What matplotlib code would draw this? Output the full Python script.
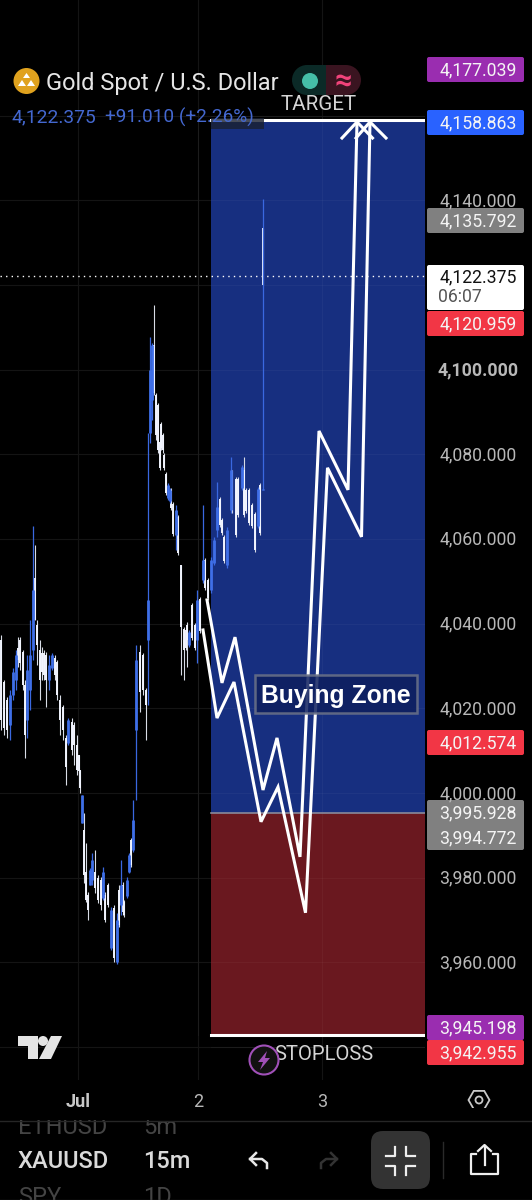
import matplotlib
matplotlib.use('Agg')
import matplotlib.pyplot as plt
from matplotlib.patches import Rectangle, FancyBboxPatch, Circle, Polygon, RegularPolygon, Wedge
import numpy as np

plt.rcParams['font.family'] = ['Roboto', 'DejaVu Sans']

# candles: hours since Jul 1 on the chart's time scale, prices in USD
candle_hour = [-15.5,-14.9,-14.3,-13.7,-13.1,-12.5,-12,-11.6,-11.1,-10.6,-10.2,-9.6,-9.1,-8.7,-8.3,-7.7,-7.3,-6.8,-6.4,-5.8,
    -5.2,-4.7,-4.2,-3.6,-3,-2.5,-2,-1.3,-.8,-.3,.1,.4,.8,1.1,1.5,2,2.4,2.8,3.3,4,
    4.6,5,5.4,6,6.6,7.1,7.7,8.2,8.6,8.9,9.2,9.7,10.2,10.5,11,11.6,12.4,13,13.6,13.9,
    14.4,14.8,15.1,15.6,16,16.3,16.6,16.9,17.2,17.5,17.9,18.3,18.5,18.9,19.6,20,20.6,21.1,21.5,21.8,
    22.2,22.8,23.3,23.8,24.4,25,25.4,25.9,26.6,27.2,27.7,28.3,28.8,29.2,29.7,30.5,30.8,31.5,32,32.7,
    33.2,33.6,34.1,34.8,35.4,36,36.4,37,37]
candle_high = [4037.3,4026.7,4022.7,4024.3,4029.5,4033.8,4036.8,4036.8,4033.8,4026.7,4032.6,4040.9,4063.1,4058.6,4040.9,4036.1,4034.5,4033.8,4033.3,4032.6,
    4033.1,4032.6,4031.4,4023.1,4020.8,4013.7,4017.7,4017.7,4016.8,4013.7,4009.0,4005.4,3999.5,3995.3,3988.2,3976.6,3982.3,3985.8,3986.5,3980.6,
    3980.2,3982.5,3976.6,3978.7,3973.1,3973.5,3971.7,3978.3,3984.2,3979.0,3974.7,3980.2,3985.8,3989.4,3998.3,4035.0,4035.0,4033.1,4024.8,4085.0,
    4107.7,4106.3,4115.3,4094.5,4092.1,4083.4,4087.6,4085.0,4080.3,4075.8,4073.2,4072.0,4072.0,4068.7,4068.0,4065.7,4053.9,4039.2,4039.0,4040.4,
    4038.5,4044.9,4040.2,4047.9,4046.3,4068.0,4055.5,4050.8,4055.7,4060.5,4073.5,4069.9,4065.0,4060.9,4062.8,4079.4,4076.3,4074.6,4074.6,4077.5,
    4079.4,4072.0,4072.0,4068.5,4066.4,4072.3,4073.2,4140.3,4133.5]
candle_low = [4014.9,4013.7,4013.0,4012.5,4022.0,4024.3,4029.8,4029.1,4024.3,4008.3,4013.0,4019.6,4031.4,4040.9,4030.2,4022.0,4026.7,4026.7,4020.3,4024.3,
    4029.1,4026.7,4022.0,4013.7,4012.5,4001.9,4011.3,4009.0,4006.6,4004.3,4004.7,4000.0,3992.9,3978.7,3974.3,3970.0,3978.3,3978.3,3976.4,3974.0,
    3972.4,3974.7,3969.5,3973.1,3962.9,3960.1,3959.6,3968.3,3971.2,3971.2,3970.7,3975.2,3981.1,3982.5,3986.1,3998.3,4019.1,4023.1,4012.5,4020.8,
    4082.7,4088.1,4094.0,4083.4,4080.3,4076.3,4081.0,4080.3,4076.3,4070.4,4069.2,4068.5,4066.8,4060.7,4057.4,4056.2,4027.9,4026.7,4033.8,4029.8,
    4034.5,4036.1,4033.8,4030.7,4037.8,4049.6,4047.9,4045.6,4047.2,4053.9,4060.5,4062.8,4060.9,4054.3,4053.1,4066.1,4066.1,4060.5,4065.2,4071.6,
    4065.2,4066.1,4063.3,4062.6,4056.9,4062.6,4060.9,4071.6,4120.0]
candle_open = [4036.1,4026.2,4022.0,4016.1,4023.1,4026.7,4034.2,4036.1,4033.3,4025.5,4017.2,4024.3,4033.8,4050.8,4039.7,4033.8,4033.1,4033.1,4032.6,4026.7,
    4029.5,4031.9,4030.9,4022.0,4020.3,4013.0,4011.8,4016.8,4016.1,4011.3,4009.0,4005.4,3992.9,3991.3,3981.3,3975.9,3978.3,3979.5,3981.3,3979.9,
    3979.5,3975.2,3975.9,3978.3,3963.4,3972.8,3960.1,3977.1,3973.5,3978.3,3974.3,3975.7,3981.3,3988.9,3986.5,4014.9,4033.3,4032.6,4024.3,4036.1,
    4085.0,4092.8,4105.8,4094.0,4091.6,4082.9,4087.2,4084.6,4079.8,4075.3,4069.7,4069.0,4071.6,4068.3,4060.9,4065.2,4053.9,4038.7,4038.5,4039.7,
    4035.0,4044.4,4039.7,4036.1,4045.8,4050.3,4055.0,4050.3,4047.9,4054.3,4062.1,4069.4,4064.5,4060.5,4053.9,4066.8,4075.8,4074.2,4074.2,4072.0,
    4076.3,4071.6,4071.6,4068.0,4065.9,4063.1,4072.7,4071.6,4133.5]
candle_close = [4017.2,4015.4,4014.9,4023.1,4028.6,4032.6,4031.4,4030.7,4025.5,4013.7,4029.1,4032.6,4047.9,4040.9,4035.0,4026.7,4028.6,4027.9,4026.7,4030.2,
    4032.6,4027.9,4023.1,4017.2,4014.9,4006.1,4017.2,4010.2,4011.3,4005.4,4005.2,4001.2,3999.5,3980.6,3974.7,3972.4,3981.8,3984.2,3977.6,3974.7,
    3973.5,3981.3,3970.0,3973.5,3972.4,3961.0,3970.0,3968.8,3978.3,3971.9,3971.2,3979.5,3985.4,3983.0,3993.6,4031.4,4023.9,4024.3,4020.8,4045.6,
    4099.9,4105.8,4094.5,4084.6,4081.0,4076.8,4081.5,4081.0,4076.8,4070.9,4072.7,4071.6,4067.3,4061.2,4066.8,4056.7,4039.2,4033.8,4034.2,4036.1,
    4038.0,4036.6,4034.2,4045.6,4038.3,4055.0,4048.4,4046.1,4055.0,4059.8,4067.6,4063.3,4061.4,4054.8,4062.1,4076.3,4066.6,4060.9,4065.7,4077.0,
    4065.7,4066.6,4063.8,4063.1,4057.4,4071.8,4061.4,4071.7,4120.0]

# hand drawn projection lines
path_a_hour = [25.8,28.8,31.4,37.0,39.8,44.4,48.2,54.0,55.8]
path_a_price = [4045.6,4026.0,4036.8,4000.7,4013.0,3984.9,4085.5,4071.6,4158.5]
path_b_hour = [25.0,27.8,31.2,36.6,40.0,45.5,49.9,56.7,58.4]
path_b_price = [4038.5,4017.7,4026.2,3993.2,4001.4,3971.7,4076.8,4060.5,4158.5]
head_a_hour = [52.8,55.8,58.9]
head_b_hour = [55.6,58.4,61.6]
head_price = [4154.7,4158.5,4154.7]

# zones
zone_start = 26.6
zone_end = 69.4
target_price = 4159.0
entry_price = 3995.3
stop_price = 3942.8
last_price = 4122.0

grid_prices = [3940,3960,3980,4000,4020,4040,4060,4080,4100,4120,4140,4160]
day_ticks = [0,24,48.8]
day_labels = ['Jul','2','3']

axis_labels = ['4,140.000','4,100.000','4,080.000','4,060.000','4,040.000','4,020.000','4,000.000','3,980.000','3,960.000']
axis_label_y = [199,368,453,537.5,622,707,792,876.5,961]

tag_labels = ['4,177.039','4,158.863','4,135.792','4,120.959','4,012.574','3,995.928','3,994.772','3,945.198','3,942.955']
tag_tops = [57,110,208,311,730,800,825,1015,1040]
tag_colors = ['#9A2DB0','#2962FF','#808080','#F23645','#F23645','#808080','#808080','#9A2DB0','#F23645']

fig = plt.figure(figsize=(5.32,12),dpi=100,facecolor='black')

# price chart, same scale as the picture (4.233 px per dollar)
ax = fig.add_axes([0,120/1200,425/532,1080/1200],facecolor='black')
ax.set_xlim(-15.6,69.4)
ax.set_ylim(3932.2,4187.3)
ax.axis('off')

for p in grid_prices:
    ax.axhline(p,color='#141414',lw=0.8,zorder=1)
for d in day_ticks:
    ax.axvline(d,color='#141414',lw=0.8,zorder=1)

ax.add_patch(Rectangle((zone_start,entry_price),zone_end-zone_start,target_price-entry_price,color='#172F80',lw=0,zorder=2))
ax.add_patch(Rectangle((zone_start,stop_price),zone_end-zone_start,entry_price-stop_price,color='#6A181F',lw=0,zorder=2))
for p in grid_prices:
    ax.plot([zone_start,zone_end],[p,p],color='white',alpha=0.035,lw=0.8,zorder=2.5)
for d in day_ticks[1:]:
    ax.plot([d,d],[stop_price,target_price],color='white',alpha=0.035,lw=0.8,zorder=2.5)
ax.plot([zone_start,zone_end],[entry_price,entry_price],color='#8A8A9A',lw=1.2,zorder=3)

ax.plot([-15.6,zone_end],[last_price,last_price],color='white',lw=1,ls=(0,(1,3)),zorder=3)

for i in range(len(candle_hour)):
    lo_body = min(candle_open[i],candle_close[i])
    hi_body = max(candle_open[i],candle_close[i])
    if candle_close[i] >= candle_open[i]:
        ax.vlines(candle_hour[i],candle_low[i],candle_high[i],color='#3A68E0',lw=0.9,zorder=4.2)
        ax.vlines(candle_hour[i],lo_body,hi_body,color='#3F6FE8',lw=2,zorder=4.2)
    else:
        ax.vlines(candle_hour[i],candle_low[i],candle_high[i],color='#D8DCE6',lw=0.8,zorder=4.1)
        ax.vlines(candle_hour[i],lo_body,hi_body,color='#F2F5FF',lw=1.4,zorder=4.1)

ax.plot(path_a_hour,path_a_price,color='white',lw=2.2,solid_joinstyle='miter',zorder=6)
ax.plot(path_b_hour,path_b_price,color='white',lw=2.2,solid_joinstyle='miter',zorder=6)
ax.plot(head_a_hour,head_price,color='white',lw=2.2,zorder=6)
ax.plot(head_b_hour,head_price,color='white',lw=2.2,zorder=6)

ax.plot([zone_start,zone_end],[target_price,target_price],color='white',lw=2.2,zorder=7)
ax.plot([zone_start,zone_end],[stop_price,stop_price],color='white',lw=2.2,zorder=7)

# everything around the chart in picture pixels
ui = fig.add_axes([0,0,1,1],zorder=5)
ui.set_xlim(0,532)
ui.set_ylim(1200,0)
ui.axis('off')
ui.patch.set_alpha(0)

def box(x0,y0,x1,y1,color,pad=2,**kw):
    ui.add_patch(FancyBboxPatch((x0+pad,y0+pad),x1-x0-2*pad,y1-y0-2*pad,boxstyle='round,pad=%g'%pad,fc=color,ec='none',**kw))

def label(x,y,s,size=12.7,color='#B8B8B8',ha='center',**kw):
    return ui.text(x,y,s,fontsize=size,color=color,ha=ha,va='center_baseline',**kw)

# header
ui.add_patch(Rectangle((211,118),53,11,fc='#1A2030',alpha=0.8,ec='none',zorder=1))
ui.add_patch(Circle((26.5,81),13,fc='#E0A21E',ec='none'))
ui.add_patch(Polygon([[26.5,73],[30,78],[23,78]],fc='white',ec='none'))
ui.add_patch(Polygon([[22,80],[26,86],[18,86]],fc='white',ec='none'))
ui.add_patch(Polygon([[31,80],[35,86],[27,86]],fc='white',ec='none'))
label(46,81,'Gold Spot / U.S. Dollar',size=17,color='#E6E6E6',ha='left')
label(12,115,'4,122.375',size=13.9,color='#4468D0',ha='left')
label(105,115,'+91.010 (+2.26%)',size=13.7,color='#4468D0',ha='left')
ui.add_patch(Wedge((307,80),15,90,270,fc='#0B2A27',ec='none'))
ui.add_patch(Rectangle((307,65),19,30,fc='#0B2A27',ec='none'))
ui.add_patch(Rectangle((326,65),20,30,fc='#3A1420',ec='none'))
ui.add_patch(Wedge((346,80),15,-90,90,fc='#3A1420',ec='none'))
ui.add_patch(Circle((310,81),8,fc='#45BFA8',ec='none'))
ui.text(343,81,'\u2248',fontsize=22,color='#F0437A',ha='center',va='center',fontweight='bold')
label(319,103,'TARGET',size=14.8,color='#D5D5D5')

# price scale
for s,y in zip(axis_labels,axis_label_y):
    if s == '4,100.000':
        label(478,y,s,fontweight='bold')
    else:
        label(478,y,s)
label(478,115,'4,160.000',zorder=0.5)
ui.add_patch(Rectangle((427,805),97,40,fc='#808080',ec='none'))
for s,top,c in zip(tag_labels,tag_tops,tag_colors):
    box(427,top,524,top+25,c)
    label(478,top+11,s,color='#F4F4F4')
box(427,265,524,310,'white')
label(478,275,'4,122.375',color='#111111')
label(460,295,'06:07',color='#555555')
ui.add_patch(Rectangle((427,312),97,3,fc='#F23645',ec='none'))

# buying zone label
ui.add_patch(Rectangle((255,675),162,38,fc='#0E1F5E',ec='#6C7388',lw=1.8,alpha=0.85))
ui.text(335.5,694,'Buying Zone',fontsize=17.8,color='white',family='Liberation Sans',fontweight='bold',ha='center',va='center_baseline')

# stoploss
label(324,1053,'STOPLOSS',size=14.6,color='#D5D5D5')
ui.add_patch(Circle((264,1060),14.5,fc='#111111',ec='#A050B8',lw=1.5,zorder=4))
ui.add_patch(Polygon([[267,1051],[258,1062],[263,1062],[260,1070],[270,1058],[265,1058]],fc='#A050B8',ec='none',zorder=4))

# tradingview logo
ui.add_patch(Polygon([[18,1036],[38,1036],[38,1059],[28,1059],[28,1046],[18,1046]],fc='#E4E4E4',ec='none'))
ui.add_patch(Circle((43,1041),5,fc='#E4E4E4',ec='none'))
ui.add_patch(Polygon([[51,1036],[62,1036],[51,1059],[39,1059]],fc='#E4E4E4',ec='none'))

# time scale
for d,s in zip(day_ticks,day_labels):
    px = 78+d*5
    if s == 'Jul':
        label(px,1100,s,size=13,color='#C8C8C8',fontweight='bold')
    else:
        label(px,1100,s,size=13,color='#B8B8B8')
ui.add_patch(RegularPolygon((479,1100),6,radius=10.5,orientation=np.pi/6,fc='none',ec='#C8C8C8',lw=1.3))
ui.add_patch(Circle((479,1100),3.5,fc='none',ec='#C8C8C8',lw=1.3))

# bottom bar
label(18,1125,'ETHUSD',size=17,color='#444444',ha='left')
label(143,1125,'5m',size=17,color='#444444',ha='left')
ui.add_patch(Rectangle((0,1108),532,12,fc='black',ec='none',zorder=3.5))
ui.plot([0,532],[1120.5,1120.5],color='#262626',lw=1,zorder=4)
label(18,1159,'XAUUSD',size=17,color='#DADADA',ha='left',fontweight='medium')
label(143,1159,'15m',size=17,color='#DADADA',ha='left',fontweight='medium')
label(18,1195,'SPY',size=17,color='#444444',ha='left')
label(143,1195,'1D',size=17,color='#444444',ha='left')
ui.plot([0,532],[1199.5,1199.5],color='#262626',lw=1,zorder=4)

ui.plot([256,250,256],[1153,1159,1165],color='#E8E8E8',lw=1.8)
ui.plot([250,262,267,267],[1159,1159,1163,1168],color='#E8E8E8',lw=1.8)
ui.plot([331,337,331],[1153,1159,1165],color='#333333',lw=1.8)
ui.plot([337,326,321,321],[1159,1159,1163,1168],color='#333333',lw=1.8)

box(371,1131,430,1189,'#333333',pad=12)
ui.plot([386,395,395],[1156,1156,1147],color='#EEEEEE',lw=1.6,zorder=4)
ui.plot([406,406,415],[1147,1156,1156],color='#EEEEEE',lw=1.6,zorder=4)
ui.plot([386,395,395],[1166,1166,1175],color='#EEEEEE',lw=1.6,zorder=4)
ui.plot([406,406,415],[1175,1166,1166],color='#EEEEEE',lw=1.6,zorder=4)
ui.plot([443,443],[1142,1178],color='#2A2A2A',lw=1)

ui.plot([476,471,471,498,498,493],[1154,1154,1174,1174,1154,1154],color='#EEEEEE',lw=1.6,solid_joinstyle='round')
ui.plot([484.5,484.5],[1146,1165],color='#EEEEEE',lw=1.6)
ui.plot([478,484.5,491],[1151,1145,1151],color='#EEEEEE',lw=1.6)

fig.savefig('out.png',dpi=100,facecolor='black')
